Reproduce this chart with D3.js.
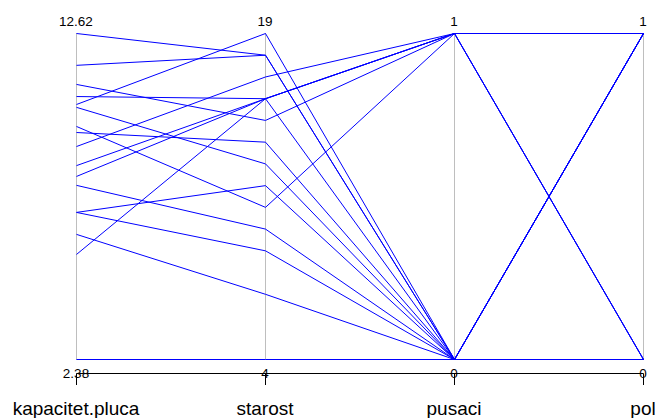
<!DOCTYPE html>
<html>
<head>
<meta charset="utf-8">
<script src="https://cdn.jsdelivr.net/npm/d3@7/dist/d3.min.js"></script>
<style>
  html, body { margin: 0; padding: 0; background: #ffffff; }
  svg { display: block; }
  text { font-family: "Liberation Sans", Arial, sans-serif; fill: #000; }
</style>
</head>
<body>
<svg id="chart" width="655" height="418"></svg>
<script>
// ---- data ----
const dimensions = ["kapacitet.pluca", "starost", "pusaci", "pol"];
const kapacitetPluca = [12.62, 11.62, 11.02, 10.64, 10.39, 10.30, 9.70, 9.51, 9.07, 8.47, 8.13, 7.85, 7.00, 7.00, 6.31, 5.68, 2.38];
const starost        = [18,    18,    15,    16,    19,    13,    11,   14,   17,   16,   16,   10,   12,   9,    7,    16,   4];
const pusaci         = [0,     0,     1,     1,     0,     0,     1,    0,    1,    1,    0,    0,    0,    0,    0,    1,    0];
const pol            = [0,     1,     1,     0,     0,     1,     0,    1,    1,    0,    0,    1,    0,    1,    0,    1,    0];
const topTickLabels    = ["12.62", "19", "1", "1"];
const bottomTickLabels = ["2.38", "4", "0", "0"];

const columns = [kapacitetPluca, starost, pusaci, pol];
const rows = kapacitetPluca.map((_, i) => {
  const r = {};
  dimensions.forEach((d, j) => { r[d] = columns[j][i]; });
  return r;
});

// ---- layout ----
const svg = d3.select("#chart");
const yTop = 33, yBottom = 359;
const x = d3.scalePoint().domain(dimensions).range([76, 643]);
const y = {};
dimensions.forEach((d, j) => {
  y[d] = d3.scaleLinear().domain(d3.extent(columns[j])).range([yBottom + 0.5, yTop + 0.5]);
});
const px = d => Math.round(x(d)) + 0.5;

// vertical gray axes
svg.append("g").selectAll("line").data(dimensions).join("line")
  .attr("x1", px).attr("x2", px)
  .attr("y1", yTop).attr("y2", yBottom + 1)
  .attr("stroke", "#bebebe").attr("stroke-width", 1);

// polylines
const line = d3.line().x(p => p[0]).y(p => p[1]);
svg.append("g").selectAll("path").data(rows).join("path")
  .attr("d", r => line(dimensions.map(d => [px(d), y[d](r[d])])))
  .attr("fill", "none").attr("stroke", "#0000ff").attr("stroke-width", 1);

// top labels
svg.append("g").selectAll("text").data(dimensions).join("text")
  .attr("x", d => x(d)).attr("y", 26)
  .attr("text-anchor", "middle").attr("font-size", "13.5px")
  .text((d, i) => topTickLabels[i]);

// bottom axis
const axisY = 373.5;
const axisG = svg.append("g");
axisG.append("line")
  .attr("x1", px(dimensions[0])).attr("x2", px(dimensions[dimensions.length - 1]))
  .attr("y1", axisY).attr("y2", axisY)
  .attr("stroke", "#000").attr("stroke-width", 1);
axisG.selectAll("line.tick").data(dimensions).join("line").attr("class", "tick")
  .attr("x1", px).attr("x2", px)
  .attr("y1", axisY).attr("y2", 385)
  .attr("stroke", "#000").attr("stroke-width", 1);
axisG.selectAll("text").data(dimensions).join("text")
  .attr("x", d => x(d)).attr("y", 378)
  .attr("text-anchor", "middle").attr("font-size", "13.5px")
  .text((d, i) => bottomTickLabels[i]);

// dimension names
svg.append("g").selectAll("text").data(dimensions).join("text")
  .attr("x", d => x(d)).attr("y", 415)
  .attr("text-anchor", "middle").attr("font-size", "19px")
  .text(d => d);
</script>
</body>
</html>
